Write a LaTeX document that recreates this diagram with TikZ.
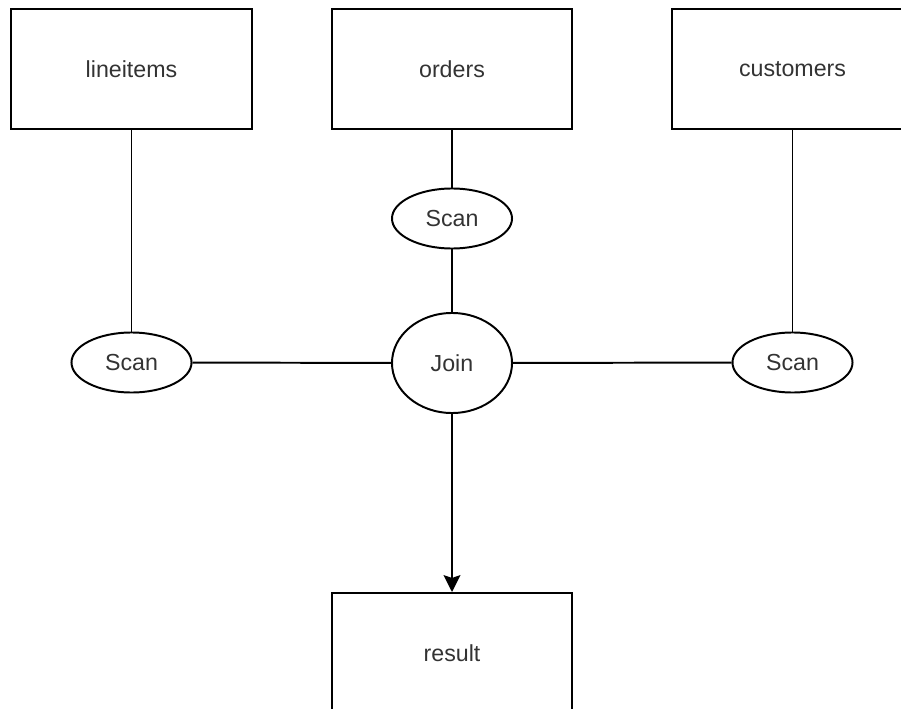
\documentclass[tikz,border=0pt]{standalone}
\usepackage{fontspec}
\setsansfont{Liberation Sans}
\usetikzlibrary{arrows.meta,positioning,shapes.geometric}

\definecolor{txtgrey}{HTML}{333333}

\begin{document}
\begin{tikzpicture}[
  x=0.025cm, y=-0.025cm,
  every node/.style={font=\sffamily\fontsize{16.5}{19}\selectfont, text=txtgrey},
  table/.style={draw, line width=1.4pt, minimum width=6cm, minimum height=3cm, inner sep=0pt},
  op/.style={draw, ellipse, line width=1.4pt, minimum width=3cm, minimum height=1.5cm, inner sep=0pt},
  joinop/.style={op, minimum height=2.5cm},
  link/.style={line width=1.4pt},
  >={Stealth[length=12pt,width=12pt,inset=2pt]}
]
  \clip (0,0) rectangle (901,709);
  % tables
  \node[table] (lineitems) at (131.5,69) {lineitems};
  \node[table] (orders) at (452,69) {orders};
  \node[table] (customers) at (792.5,69) {customers};
  \node[table] (result) at (452,653) {result};
  % operators
  \node[op] (scanO) at (452,218.5) {Scan};
  \node[joinop] (join) at (452,363) {Join};
  \node[op] (scanL) at (131.5,362.5) {Scan};
  \node[op] (scanR) at (792.5,362.5) {Scan};

  \draw[link] (orders) -- (scanO);
  \draw[link] (scanO) -- (join);
  \draw[link] (lineitems) -- (scanL);
  \draw[link] (customers) -- (scanR);
  \draw[link] (scanL) -- (join);
  \draw[link] (join) -- (scanR);
  \draw[link,->] (join) -- (result);
\end{tikzpicture}
\end{document}
